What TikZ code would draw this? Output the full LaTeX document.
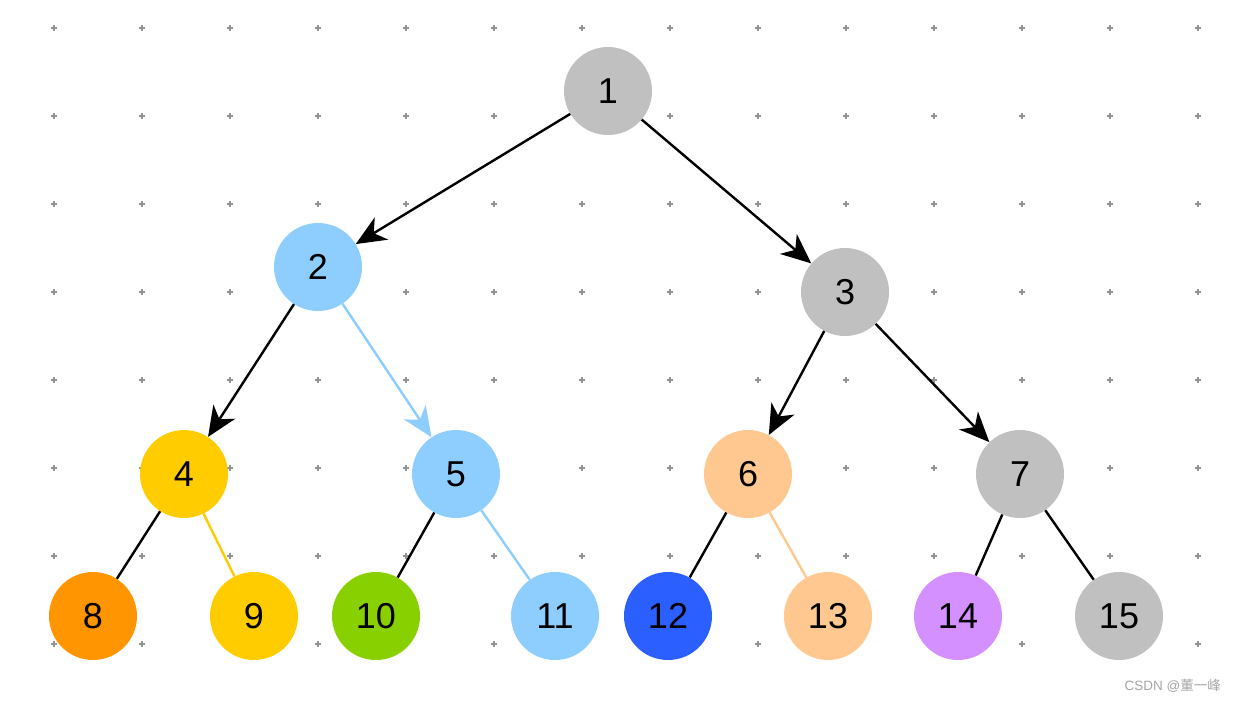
\documentclass[tikz,border=0pt]{standalone}
\usepackage{fontspec}
\setmainfont{Liberation Sans}
\newfontfamily\cjk{Noto Sans CJK SC}
\usetikzlibrary{arrows.meta}
\definecolor{cgray}{HTML}{C0C0C0}
\definecolor{cblue}{HTML}{8ECEFF}
\definecolor{cyellow}{HTML}{FFCC00}
\definecolor{corange}{HTML}{FF9500}
\definecolor{cgreen}{HTML}{88D000}
\definecolor{cdblue}{HTML}{2C5FFF}
\definecolor{cpeach}{HTML}{FFC891}
\definecolor{cpurple}{HTML}{D590FF}
\tikzset{
  tnode/.style={circle, minimum size=88pt, inner sep=0pt, fill=#1, font=\fontsize{36}{40}\selectfont},
  edge/.style={line width=2.4pt, draw=#1},
  arr/.style={line width=2.4pt, draw=#1, -{Stealth[length=30pt,width=26pt,inset=9pt]}},
  dotmark/.style={line width=1.8pt, draw=gray!85}
}
\begin{document}
\begin{tikzpicture}[x=1pt,y=-1pt]
\useasboundingbox (0,0) rectangle (1236,702);
\fill[white] (0,0) rectangle (1236,702);
\foreach \i in {0,...,13}{
  \foreach \j in {0,...,7}{
    \draw[dotmark] ({54+88*\i-3},{28+88*\j}) -- ({54+88*\i+3},{28+88*\j});
    \draw[dotmark] ({54+88*\i},{28+88*\j-3}) -- ({54+88*\i},{28+88*\j+3});
  }
}
\node[tnode=cgray] (n1) at (608,91) {1};
\node[tnode=cblue] (n2) at (318,267) {2};
\node[tnode=cgray] (n3) at (845,292) {3};
\node[tnode=cyellow] (n4) at (184,474) {4};
\node[tnode=cblue] (n5) at (456,474) {5};
\node[tnode=cpeach] (n6) at (748,474) {6};
\node[tnode=cgray] (n7) at (1020,474) {7};
\node[tnode=corange] (n8) at (93,616) {8};
\node[tnode=cyellow] (n9) at (254,616) {9};
\node[tnode=cgreen] (n10) at (376,616) {10};
\node[tnode=cblue] (n11) at (555,616) {11};
\node[tnode=cdblue] (n12) at (668,616) {12};
\node[tnode=cpeach] (n13) at (828,616) {13};
\node[tnode=cpurple] (n14) at (958,616) {14};
\node[tnode=cgray] (n15) at (1119,616) {15};
\draw[arr=black] (n1) -- (n2);
\draw[arr=black] (n1) -- (n3);
\draw[arr=black] (n2) -- (n4);
\draw[arr=cblue] (n2) -- (n5);
\draw[arr=black] (n3) -- (n6);
\draw[arr=black] (n3) -- (n7);
\draw[edge=black] (n4) -- (n8);
\draw[edge=cyellow] (n4) -- (n9);
\draw[edge=black] (n5) -- (n10);
\draw[edge=cblue] (n5) -- (n11);
\draw[edge=black] (n6) -- (n12);
\draw[edge=cpeach] (n6) -- (n13);
\draw[edge=black] (n7) -- (n14);
\draw[edge=black] (n7) -- (n15);
\node[text=gray!70, font=\fontsize{13.5}{15}\selectfont, anchor=east, inner sep=0pt] (wm) at (1221,686) {CSDN @{\cjk 董一峰}};
\end{tikzpicture}
\end{document}
